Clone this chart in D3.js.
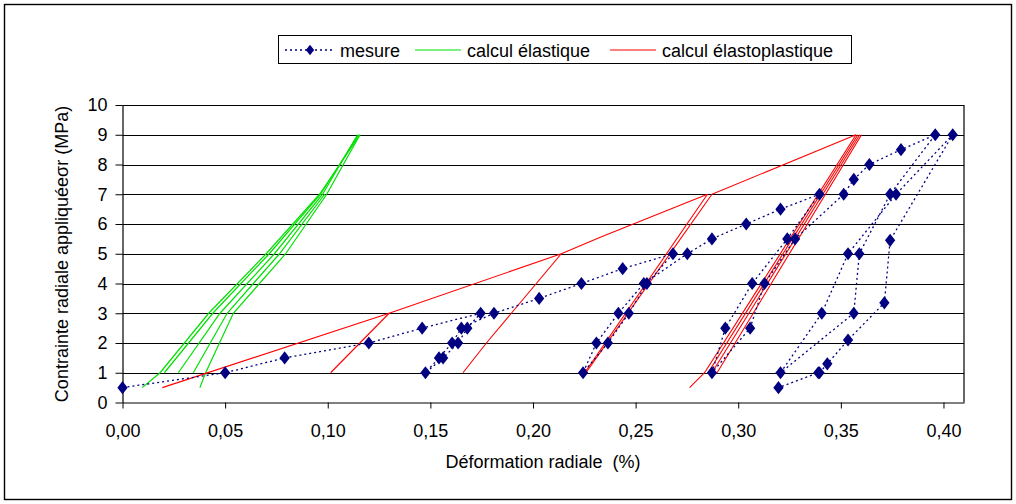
<!DOCTYPE html>
<html>
<head>
<meta charset="utf-8">
<script src="https://cdn.jsdelivr.net/npm/d3@7"></script>
<style>
  body { margin: 0; background: #fff; }
  svg text { font-family: "Liberation Sans", Arial, sans-serif; fill: #000; }
</style>
</head>
<body>
<div id="chart"></div>
<script>
// mesure : (déformation %, contrainte MPa), dans l'ordre des cycles
const mesureX = [0.000, 0.050, 0.079, 0.120, 0.146, 0.1745, 0.168, 0.1635, 0.1562, 0.1476,
  0.1542, 0.1606, 0.1651, 0.181, 0.203, 0.2236, 0.2437, 0.2682, 0.2555, 0.2467, 0.2365, 0.2244,
  0.2309, 0.2416, 0.254, 0.2752, 0.2872, 0.3039, 0.3206, 0.3396, 0.3239, 0.3068, 0.2937, 0.2872,
  0.3058, 0.3128, 0.3277, 0.3514, 0.3563, 0.3639, 0.3793, 0.396, 0.374, 0.359, 0.3563, 0.3206,
  0.3407, 0.3535, 0.3769, 0.4045, 0.374, 0.3712, 0.3535, 0.3434, 0.3396, 0.339, 0.3196];
const mesureY = [0.5, 1.0, 1.5, 2.0, 2.5, 3.0, 2.5, 2.0, 1.5, 1.0,
  1.5, 2.0, 2.5, 3.0, 3.5, 4.0, 4.5, 5.0, 4.0, 3.0, 2.0, 1.0,
  2.0, 3.0, 4.0, 5.0, 5.5, 6.0, 6.5, 7.0, 5.5, 4.0, 2.5, 1.0,
  2.5, 4.0, 5.5, 7.0, 7.5, 8.0, 8.5, 9.0, 7.0, 5.0, 3.0, 1.0,
  3.0, 5.0, 7.0, 9.0, 5.45, 3.35, 2.1, 1.3, 1.0, 1.0, 0.5];

// calcul élastique : chargement puis décharges
const elastiqueCharge = [[0.0096, 0.5], [0.0183, 1], [0.042, 3], [0.070, 5], [0.096, 7], [0.1157, 9]];
const elastique3 = [[0.0204, 1], [0.044, 3], [0.0715, 5], [0.0965, 7], [0.1150, 9]];
const elastique5 = [[0.0272, 1], [0.0475, 3], [0.074, 5], [0.0975, 7], [0.1145, 9]];
const elastique7 = [[0.0345, 1], [0.051, 3], [0.0765, 5], [0.0985, 7]];
const elastique9 = [[0.0377, 0.5], [0.0405, 1], [0.054, 3], [0.0795, 5], [0.0995, 7], [0.1157, 9]];

// calcul élastoplastique
const plastiqueCharge = [[0.0194, 0.5], [0.1299, 3], [0.2138, 5], [0.2325, 5.55], [0.2850, 7]];
const plastiqueCharge9 = [[0.2872, 7], [0.3574, 9]];
const plastique3 = [[0.1299, 3], [0.1014, 1]];
const plastique5 = [[0.2138, 5], [0.1773, 2], [0.1659, 1]];
const plastique7a = [[0.2850, 7], [0.2252, 1]];
const plastique7b = [[0.2258, 1], [0.2872, 7]];
const plastique9a = [[0.3574, 9], [0.2836, 1], [0.2763, 0.5]];
const plastique9b = [[0.3583, 9], [0.2853, 1]];
const plastique9c = [[0.3592, 9], [0.2872, 1]];
const plastique9d = [[0.3601, 9], [0.2897, 1]];

const xTicks = [0, 0.05, 0.10, 0.15, 0.20, 0.25, 0.30, 0.35, 0.40];
const yTicks = [0, 1, 2, 3, 4, 5, 6, 7, 8, 9, 10];

const W = 1016, H = 504;
const svg = d3.select('#chart').append('svg').attr('width', W).attr('height', H);

svg.append('rect').attr('x', 4.5).attr('y', 4.5).attr('width', 1007).attr('height', 495)
  .attr('fill', '#fff').attr('stroke', '#000').attr('stroke-width', 1.4);

const x = d3.scaleLinear().domain([0, 0.41]).range([122.5, 964]);
const y = d3.scaleLinear().domain([0, 10]).range([402.5, 105]);

// grille horizontale
svg.append('g').selectAll('line').data(yTicks.slice(1)).join('line')
  .attr('x1', x(0)).attr('x2', x(0.41))
  .attr('y1', d => Math.round(y(d)) + 0.5).attr('y2', d => Math.round(y(d)) + 0.5)
  .attr('stroke', '#000').attr('stroke-width', 1);
svg.append('line').attr('x1', x(0.41)).attr('x2', x(0.41)).attr('y1', y(10)).attr('y2', y(0))
  .attr('stroke', '#000').attr('stroke-width', 1.2);

const fmt = d => d3.format('.2f')(d).replace('.', ',');
const xAxis = svg.append('g').attr('transform', `translate(0,${y(0)})`)
  .call(d3.axisBottom(x).tickValues(xTicks).tickFormat(fmt).tickSize(6).tickSizeOuter(0));
const yAxis = svg.append('g').attr('transform', `translate(${x(0)},0)`)
  .call(d3.axisLeft(y).tickValues(yTicks).tickSize(7).tickSizeOuter(0));
[xAxis, yAxis].forEach(a => {
  a.select('.domain').attr('stroke', '#000').attr('stroke-width', 1.2);
  a.selectAll('.tick line').attr('stroke', '#000');
  a.selectAll('text').attr('font-size', 18).attr('font-family', '"Liberation Sans", Arial, sans-serif');
});
xAxis.selectAll('text').attr('y', 34).attr('dy', 0);
yAxis.selectAll('text').attr('x', -15);

const line = d3.line().x(d => x(d[0])).y(d => y(d[1]));

[elastiqueCharge, elastique3, elastique5, elastique7, elastique9].forEach(l => {
  svg.append('path').datum(l).attr('d', line)
    .attr('fill', 'none').attr('stroke', '#00e000').attr('stroke-width', 1.2);
});
[plastiqueCharge, plastiqueCharge9, plastique3, plastique5, plastique7a, plastique7b,
 plastique9a, plastique9b, plastique9c, plastique9d].forEach(l => {
  svg.append('path').datum(l).attr('d', line)
    .attr('fill', 'none').attr('stroke', '#ff0000').attr('stroke-width', 1.1);
});

const mesure = mesureX.map((v, i) => [v, mesureY[i]]);
svg.append('path').datum(mesure).attr('d', line)
  .attr('fill', 'none').attr('stroke', '#000080').attr('stroke-width', 1.3)
  .attr('stroke-dasharray', '2,3');
const diamond = d3.symbol().type(d3.symbolDiamond).size(50);
svg.append('g').selectAll('path').data(mesure).join('path')
  .attr('transform', d => `translate(${x(d[0])},${y(d[1])}) scale(1.35,1)`)
  .attr('d', diamond).attr('fill', '#000080');

// titres d'axes
svg.append('text').attr('x', 543).attr('y', 468).attr('text-anchor', 'middle')
  .attr('font-size', 18).attr('xml:space', 'preserve').text('Déformation radiale  (%)');
svg.append('text').attr('transform', 'translate(68,254) rotate(-90)').attr('text-anchor', 'middle')
  .attr('font-size', 18).text('Contrainte radiale appliquéeσr (MPa)');

// légende
const lg = svg.append('g');
lg.append('rect').attr('x', 278.5).attr('y', 35.5).attr('width', 573).attr('height', 28)
  .attr('fill', '#fff').attr('stroke', '#000').attr('stroke-width', 1);
lg.append('line').attr('x1', 285).attr('x2', 335).attr('y1', 50).attr('y2', 50)
  .attr('stroke', '#000080').attr('stroke-width', 1.3).attr('stroke-dasharray', '2,3');
lg.append('path').attr('transform', 'translate(310,50) scale(1.1,0.8)').attr('d', diamond).attr('fill', '#000080');
lg.append('text').attr('x', 340).attr('y', 56.5).attr('font-size', 18).text('mesure');
lg.append('line').attr('x1', 415).attr('x2', 461).attr('y1', 50).attr('y2', 50)
  .attr('stroke', '#00e000').attr('stroke-width', 1.2);
lg.append('text').attr('x', 467).attr('y', 56.5).attr('font-size', 18).text('calcul élastique');
lg.append('line').attr('x1', 610).attr('x2', 656).attr('y1', 50).attr('y2', 50)
  .attr('stroke', '#ff0000').attr('stroke-width', 1.2);
lg.append('text').attr('x', 662).attr('y', 56.5).attr('font-size', 18).text('calcul élastoplastique');
</script>
</body>
</html>
